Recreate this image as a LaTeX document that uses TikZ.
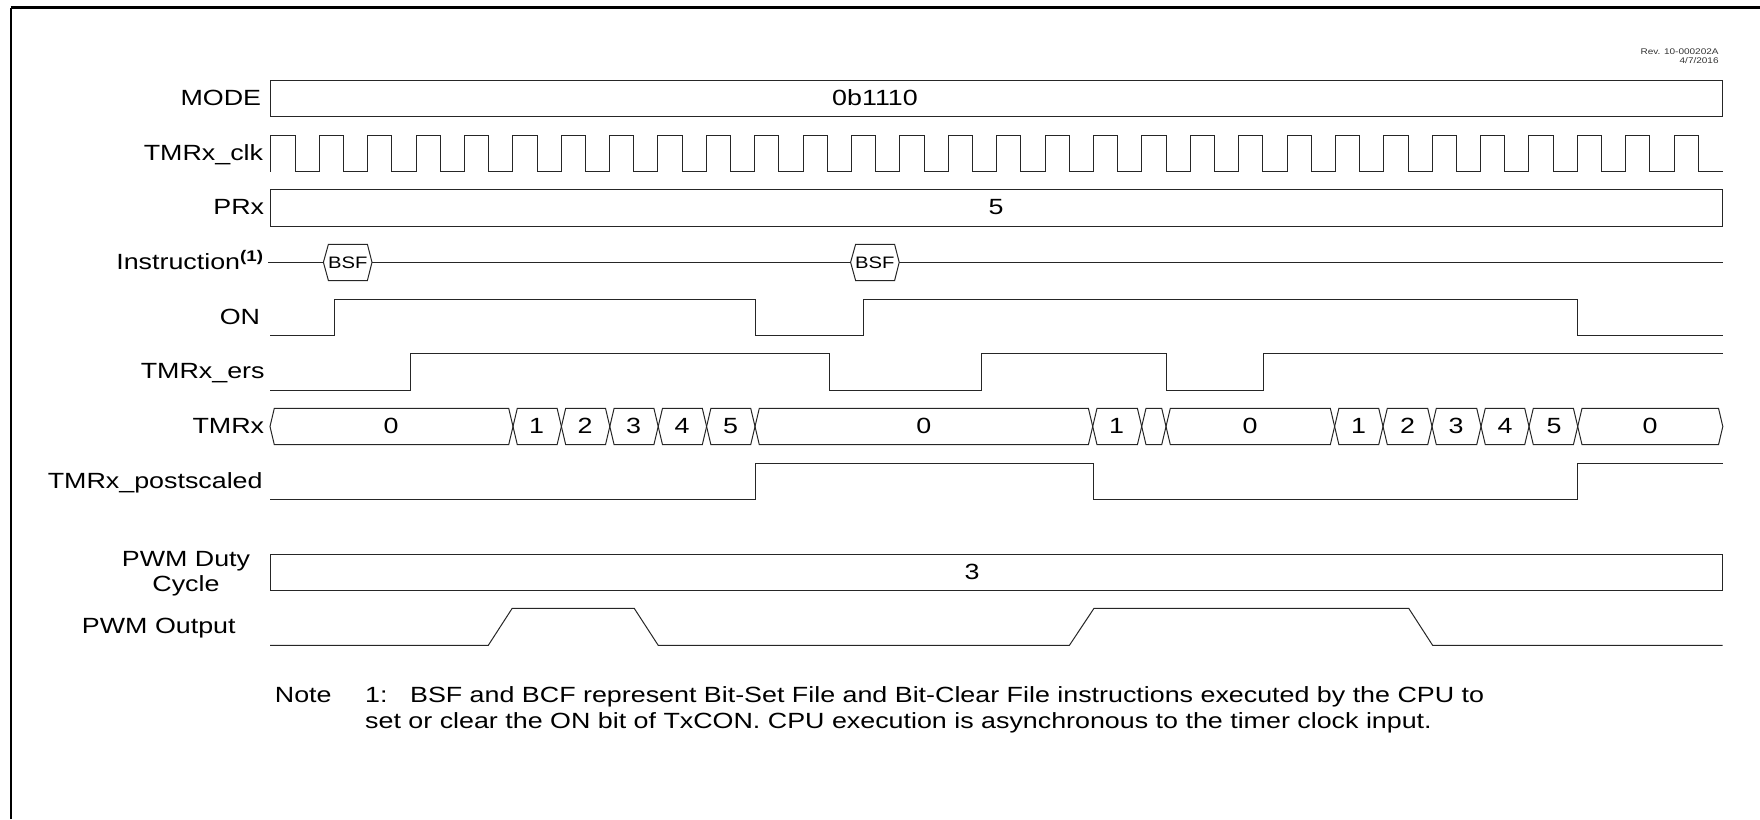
\documentclass[tikz,border=0pt]{standalone}
\usepackage{fontspec}
\setmainfont[FakeStretch=1.22]{Liberation Sans}
\usetikzlibrary{positioning,calc}
\tikzset{
  wave/.style={draw=black!85,line width=0.5pt,line join=miter},
  lbl/.style={anchor=base east,inner sep=0pt,font=\fontsize{11}{12}\selectfont},
  val/.style={anchor=base,inner sep=0pt,font=\fontsize{11}{12}\selectfont},
  txt/.style={anchor=base west,inner sep=0pt,font=\fontsize{11}{12}\selectfont},
  bsf/.style={anchor=base,inner sep=0pt,font=\fontsize{8.3}{9}\selectfont},
  rev/.style={anchor=base east,inner sep=0pt,font=\fontsize{4.1}{5}\selectfont,black!80}
}
\begin{document}
\begin{tikzpicture}[x=0.5pt,y=-0.5pt]
\useasboundingbox (0,0) rectangle (1760,819);
\draw[line width=0.75pt] (11,819) -- (11,7.5);
\draw[line width=1.25pt] (10.6,7.5) -- (1760,7.5);
\node[rev] (revno) at (1719,54.5) {Rev. 10-000202A};
\node[rev] (revdate) at (1719,63.5) {4/7/2016};
% MODE
\node[lbl] (mode) at (261.5,105.8) {MODE};
\draw[wave] (270.5,80.5) rectangle (1722.7,116.7);\node[val] (modeval) at (875,105.8) {0b1110};
% TMRx_clk
\node[lbl] (clk) at (263.5,160.2) {TMRx\_clk};
\draw[wave] (270.5,171.7) |- (295,135.3) |- (319.2,171.7) |- (343.4,135.3) |- (367.6,171.7) |- (391.8,135.3) |- (416,171.7)
 |- (440.2,135.3) |- (464.4,171.7) |- (488.6,135.3) |- (512.8,171.7) |- (537,135.3) |- (561.1,171.7) |- (585.3,135.3) |- (609.5,171.7)
 |- (633.7,135.3) |- (657.9,171.7) |- (682.1,135.3) |- (706.3,171.7) |- (730.5,135.3) |- (754.7,171.7) |- (778.9,135.3) |- (803.1,171.7)
 |- (827.3,135.3) |- (851.5,171.7) |- (875.7,135.3) |- (899.9,171.7) |- (924.1,135.3) |- (948.3,171.7) |- (972.5,135.3) |- (996.7,171.7)
 |- (1020.9,135.3) |- (1045,171.7) |- (1069.2,135.3) |- (1093.4,171.7) |- (1117.6,135.3) |- (1141.8,171.7) |- (1166,135.3) |- (1190.2,171.7)
 |- (1214.4,135.3) |- (1238.6,171.7) |- (1262.8,135.3) |- (1287,171.7) |- (1311.2,135.3) |- (1335.4,171.7) |- (1359.6,135.3) |- (1383.8,171.7)
 |- (1408,135.3) |- (1432.2,171.7) |- (1456.4,135.3) |- (1480.6,171.7) |- (1504.8,135.3) |- (1528.9,171.7) |- (1553.1,135.3) |- (1577.3,171.7)
 |- (1601.5,135.3) |- (1625.7,171.7) |- (1649.9,135.3) |- (1674.1,171.7) |- (1698.3,135.3) |- (1722.7,171.7);
% PRx
\node[lbl] (prx) at (264.5,214.5) {PRx};
\draw[wave] (270.5,189.7) rectangle (1722.7,226.3);\node[val] (prxval) at (996,214.5) {5};
% Instruction
\node[lbl] (instr) at (264.5,269.3) {Instruction\textsuperscript{\textbf{(1)}}};
\draw[wave] (268,262.3) -- (323.4,262.3);
\draw[wave] (323.4,262.3) -- (328.4,244.3) -- (367.4,244.3) -- (372,262.3) -- (367.4,280.5) -- (328.4,280.5) -- cycle;\node[bsf] (bsfa) at (347.7,268) {BSF};
\draw[wave] (372,262.3) -- (850.6,262.3);
\draw[wave] (850.6,262.3) -- (855.6,244.3) -- (894.6,244.3) -- (899.2,262.3) -- (894.6,280.5) -- (855.6,280.5) -- cycle;\node[bsf] (bsfb) at (874.9,268) {BSF};
\draw[wave] (899.2,262.3) -- (1722.7,262.3);
% ON
\node[lbl] (on) at (260.5,324.5) {ON};
\draw[wave] (270,335.3) -| (334.7,299) -| (755,335.3) -| (863.7,299) -| (1577.7,335.3) -- (1722.7,335.3);
% TMRx_ers
\node[lbl] (ers) at (265,378.5) {TMRx\_ers};
\draw[wave] (270,390) -| (410,353.7) -| (829.4,390) -| (981.3,353.7) -| (1166.2,390) -| (1263,353.7) -- (1722.7,353.7);
% TMRx
\node[lbl] (tmr) at (264.5,433.7) {TMRx};
\draw[wave] (270,426.5) -- (274.3,408.3) -- (508.7,408.3) -- (513,426.5) -- (508.7,444.7) -- (274.3,444.7) -- cycle;\node[val] (tmra) at (391,433.7) {0};
\draw[wave] (513,426.5) -- (517.3,408.3) -- (557.1,408.3) -- (561.4,426.5) -- (557.1,444.7) -- (517.3,444.7) -- cycle;\node[val] (tmrb) at (536.5,433.7) {1};
\draw[wave] (561.4,426.5) -- (565.7,408.3) -- (605.5,408.3) -- (609.8,426.5) -- (605.5,444.7) -- (565.7,444.7) -- cycle;\node[val] (tmrc) at (585,433.7) {2};
\draw[wave] (609.8,426.5) -- (614.1,408.3) -- (653.9,408.3) -- (658.2,426.5) -- (653.9,444.7) -- (614.1,444.7) -- cycle;\node[val] (tmrd) at (633.5,433.7) {3};
\draw[wave] (658.2,426.5) -- (662.5,408.3) -- (702.3,408.3) -- (706.6,426.5) -- (702.3,444.7) -- (662.5,444.7) -- cycle;\node[val] (tmre) at (682,433.7) {4};
\draw[wave] (706.6,426.5) -- (710.9,408.3) -- (750.7,408.3) -- (755,426.5) -- (750.7,444.7) -- (710.9,444.7) -- cycle;\node[val] (tmrf) at (730.5,433.7) {5};
\draw[wave] (755,426.5) -- (759.3,408.3) -- (1088.4,408.3) -- (1092.7,426.5) -- (1088.4,444.7) -- (759.3,444.7) -- cycle;\node[val] (tmrg) at (923.7,433.7) {0};
\draw[wave] (1092.7,426.5) -- (1097,408.3) -- (1137.4,408.3) -- (1141.7,426.5) -- (1137.4,444.7) -- (1097,444.7) -- cycle;\node[val] (tmrh) at (1116.6,433.7) {1};
\draw[wave] (1141.7,426.5) -- (1146,408.3) -- (1161.7,408.3) -- (1166,426.5) -- (1161.7,444.7) -- (1146,444.7) -- cycle;
\draw[wave] (1166,426.5) -- (1170.3,408.3) -- (1330.3,408.3) -- (1334.6,426.5) -- (1330.3,444.7) -- (1170.3,444.7) -- cycle;\node[val] (tmri) at (1250,433.7) {0};
\draw[wave] (1334.6,426.5) -- (1338.9,408.3) -- (1378.7,408.3) -- (1383,426.5) -- (1378.7,444.7) -- (1338.9,444.7) -- cycle;\node[val] (tmrj) at (1358.5,433.7) {1};
\draw[wave] (1383,426.5) -- (1387.3,408.3) -- (1427.7,408.3) -- (1432,426.5) -- (1427.7,444.7) -- (1387.3,444.7) -- cycle;\node[val] (tmrk) at (1407.5,433.7) {2};
\draw[wave] (1432,426.5) -- (1436.3,408.3) -- (1476.7,408.3) -- (1481,426.5) -- (1476.7,444.7) -- (1436.3,444.7) -- cycle;\node[val] (tmrl) at (1456,433.7) {3};
\draw[wave] (1481,426.5) -- (1485.3,408.3) -- (1524.7,408.3) -- (1529,426.5) -- (1524.7,444.7) -- (1485.3,444.7) -- cycle;\node[val] (tmrm) at (1505,433.7) {4};
\draw[wave] (1529,426.5) -- (1533.3,408.3) -- (1573.4,408.3) -- (1577.7,426.5) -- (1573.4,444.7) -- (1533.3,444.7) -- cycle;\node[val] (tmrn) at (1554,433.7) {5};
\draw[wave] (1577.7,426.5) -- (1582,408.3) -- (1718.5,408.3) -- (1722.8,426.5) -- (1718.5,444.7) -- (1582,444.7) -- cycle;\node[val] (tmro) at (1650,433.7) {0};
% TMRx_postscaled
\node[lbl] (post) at (263,488.3) {TMRx\_postscaled};
\draw[wave] (270,499.3) -| (755,463) -| (1093.3,499.3) -| (1577.7,463) -- (1722.7,463);
% PWM Duty Cycle
\node[val] (dutya) at (186,566.8) {PWM Duty};
\node[val] (dutyb) at (186,591.5) {Cycle};
\draw[wave] (270.5,554) rectangle (1722.7,590.3);\node[val] (dutyval) at (972,579) {3};
% PWM Output
\node[lbl] (pwm) at (236,633.5) {PWM Output};
\draw[wave] (270,645.3) -- (488.3,645.3) -- (512.2,608.3) -- (634.2,608.3) -- (658.2,645.3) -- (1069.4,645.3) -- (1094,608.3) -- (1408.7,608.3) -- (1432.6,645.3) -- (1722.7,645.3);
% note
\node[txt] (note) at (274.5,702.7) {Note};
\node[txt] (notenum) at (364.8,702.7) {1:};
\node[txt] (notea) at (409.7,702.7) {BSF and BCF represent Bit-Set File and Bit-Clear File instructions executed by the CPU to};
\node[txt] (noteb) at (364.8,728) {set or clear the ON bit of TxCON. CPU execution is asynchronous to the timer clock input.};
\end{tikzpicture}
\end{document}
